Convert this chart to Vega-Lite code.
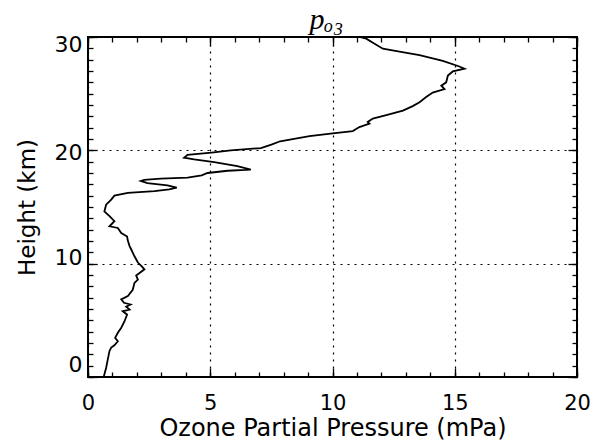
{
  "$schema": "https://vega.github.io/schema/vega-lite/v6.json",
  "width": 489,
  "height": 340,
  "autosize": "none",
  "padding": {"left": 88, "top": 37, "right": 14, "bottom": 71},
  "background": "white",
  "title": {"text": "pₒ₃", "font": "Liberation Serif", "fontStyle": "italic", "fontSize": 30, "fontWeight": "normal", "color": "black", "anchor": "middle", "offset": -2, "dx": -6},
  "config": {
    "view": {"stroke": "black", "strokeWidth": 2},
    "axis": {"labelColor": "black", "titleColor": "black", "labelFont": "DejaVu Sans", "titleFont": "DejaVu Sans", "tickColor": "black", "domain": false}
  },
  "data": {"values": [
    {"h": 0.0, "p": 0.63}, {"h": 0.07, "p": 0.65}, {"h": 0.8, "p": 0.74}, {"h": 1.55, "p": 0.81},
    {"h": 2.3, "p": 0.88}, {"h": 2.6, "p": 0.95}, {"h": 2.8, "p": 1.08}, {"h": 3.15, "p": 1.22},
    {"h": 3.45, "p": 1.11}, {"h": 3.9, "p": 1.22}, {"h": 4.35, "p": 1.36}, {"h": 4.9, "p": 1.49},
    {"h": 5.5, "p": 1.6}, {"h": 5.8, "p": 1.42}, {"h": 5.95, "p": 1.7}, {"h": 6.2, "p": 1.56},
    {"h": 6.4, "p": 1.74}, {"h": 6.55, "p": 1.47}, {"h": 6.85, "p": 1.36}, {"h": 7.15, "p": 1.63},
    {"h": 7.7, "p": 1.83}, {"h": 8.3, "p": 1.9}, {"h": 8.6, "p": 2.04}, {"h": 8.95, "p": 1.97},
    {"h": 9.5, "p": 2.31}, {"h": 9.8, "p": 2.18}, {"h": 10.1, "p": 2.04}, {"h": 10.65, "p": 1.9},
    {"h": 11.25, "p": 1.77}, {"h": 11.55, "p": 1.7}, {"h": 12.1, "p": 1.62}, {"h": 12.4, "p": 1.6},
    {"h": 12.7, "p": 1.36}, {"h": 13.15, "p": 1.22}, {"h": 13.3, "p": 0.88}, {"h": 13.75, "p": 1.08},
    {"h": 14.2, "p": 0.88}, {"h": 14.6, "p": 0.67}, {"h": 15.2, "p": 0.74}, {"h": 15.65, "p": 0.95},
    {"h": 16.0, "p": 1.08}, {"h": 16.25, "p": 1.63}, {"h": 16.4, "p": 2.72}, {"h": 16.55, "p": 3.32},
    {"h": 16.7, "p": 3.63}, {"h": 16.9, "p": 3.25}, {"h": 17.1, "p": 2.43}, {"h": 17.3, "p": 2.16},
    {"h": 17.4, "p": 2.3}, {"h": 17.5, "p": 2.98}, {"h": 17.6, "p": 4.07}, {"h": 17.8, "p": 4.65},
    {"h": 18.0, "p": 4.89}, {"h": 18.2, "p": 5.71}, {"h": 18.3, "p": 6.66}, {"h": 18.6, "p": 6.11},
    {"h": 18.95, "p": 5.16}, {"h": 19.2, "p": 4.34}, {"h": 19.35, "p": 3.93}, {"h": 19.6, "p": 4.07},
    {"h": 19.8, "p": 5.05}, {"h": 20.0, "p": 5.84}, {"h": 20.2, "p": 7.07}, {"h": 20.5, "p": 7.5},
    {"h": 20.8, "p": 7.86}, {"h": 21.25, "p": 9.06}, {"h": 21.5, "p": 10.01}, {"h": 21.7, "p": 10.83},
    {"h": 22.05, "p": 11.1}, {"h": 22.35, "p": 11.51}, {"h": 22.5, "p": 11.44}, {"h": 22.8, "p": 11.65},
    {"h": 23.1, "p": 12.2}, {"h": 23.5, "p": 12.88}, {"h": 23.9, "p": 13.28}, {"h": 24.25, "p": 13.56},
    {"h": 24.7, "p": 13.83}, {"h": 25.1, "p": 14.1}, {"h": 25.4, "p": 14.58}, {"h": 25.7, "p": 14.45},
    {"h": 26.0, "p": 14.65}, {"h": 26.6, "p": 14.72}, {"h": 26.96, "p": 14.92}, {"h": 27.2, "p": 15.4},
    {"h": 27.4, "p": 15.19}, {"h": 27.9, "p": 14.51}, {"h": 28.4, "p": 13.56}, {"h": 28.7, "p": 12.74},
    {"h": 28.97, "p": 12.06}, {"h": 29.4, "p": 11.72}, {"h": 29.85, "p": 11.38}, {"h": 30.0, "p": 11.1}
  ]},
  "resolve": {"axis": {"x": "independent", "y": "independent"}},
  "layer": [
    {
      "mark": {"type": "line", "color": "black", "strokeWidth": 1.8, "clip": true},
      "encoding": {
        "x": {"field": "p", "type": "quantitative", "scale": {"domain": [0, 20], "nice": false, "zero": false},
          "axis": {"values": [0, 5, 10, 15, 20], "ticks": false, "grid": true, "gridColor": "black", "gridOpacity": 1, "gridDash": [2, 5], "gridWidth": 1.2,
            "labelFontSize": 21, "labelPadding": 15, "labelFlush": false, "title": "Ozone Partial Pressure (mPa)", "titleFontSize": 24, "titleFontWeight": "normal", "titlePadding": 3}},
        "y": {"field": "h", "type": "quantitative", "scale": {"domain": [0, 30], "nice": false, "zero": false},
          "axis": {"values": [0, 10, 20, 30], "ticks": false, "grid": true, "gridColor": "black", "gridOpacity": 1, "gridDash": [2, 5], "gridWidth": 1.2,
            "labelFontSize": 22, "labelPadding": 6, "labelFlush": false,
            "labelOffset": {"condition": [{"test": "datum.value == 30", "value": 7}, {"test": "datum.value == 20", "value": 2}, {"test": "datum.value == 10", "value": -6}], "value": -13},
            "title": "Height (km)", "titleFontSize": 23, "titleFontWeight": "normal", "titlePadding": 15}},
        "order": {"field": "h", "type": "quantitative"}
      }
    },
    {
      "mark": {"type": "point", "opacity": 0},
      "encoding": {
        "x": {"field": "p", "type": "quantitative", "axis": {"orient": "bottom", "values": [0,1,2,3,4,5,6,7,8,9,10,11,12,13,14,15,16,17,18,19,20], "tickSize": -5, "tickWidth": 1.3, "labels": false, "grid": false, "title": null}},
        "y": {"field": "h", "type": "quantitative", "axis": {"orient": "left", "values": [0,1,2,3,4,5,6,7,8,9,10,11,12,13,14,15,16,17,18,19,20,21,22,23,24,25,26,27,28,29,30], "tickSize": -5, "tickWidth": 1.3, "labels": false, "grid": false, "title": null}}
      }
    },
    {
      "mark": {"type": "point", "opacity": 0},
      "encoding": {
        "x": {"field": "p", "type": "quantitative", "axis": {"orient": "bottom", "values": [0, 5, 10, 15, 20], "tickSize": -9, "tickWidth": 1.3, "labels": false, "grid": false, "title": null}},
        "y": {"field": "h", "type": "quantitative", "axis": {"orient": "left", "values": [0, 10, 20, 30], "tickSize": -9, "tickWidth": 1.3, "labels": false, "grid": false, "title": null}}
      }
    },
    {
      "mark": {"type": "point", "opacity": 0},
      "encoding": {
        "x": {"field": "p", "type": "quantitative", "axis": {"orient": "top", "values": [0,1,2,3,4,5,6,7,8,9,10,11,12,13,14,15,16,17,18,19,20], "tickSize": -5, "tickWidth": 1.3, "labels": false, "grid": false, "title": null}},
        "y": {"field": "h", "type": "quantitative", "axis": {"orient": "right", "values": [0,1,2,3,4,5,6,7,8,9,10,11,12,13,14,15,16,17,18,19,20,21,22,23,24,25,26,27,28,29,30], "tickSize": -5, "tickWidth": 1.3, "labels": false, "grid": false, "title": null}}
      }
    },
    {
      "mark": {"type": "point", "opacity": 0},
      "encoding": {
        "x": {"field": "p", "type": "quantitative", "axis": {"orient": "top", "values": [0, 5, 10, 15, 20], "tickSize": -9, "tickWidth": 1.3, "labels": false, "grid": false, "title": null}},
        "y": {"field": "h", "type": "quantitative", "axis": {"orient": "right", "values": [0, 10, 20, 30], "tickSize": -9, "tickWidth": 1.3, "labels": false, "grid": false, "title": null}}
      }
    }
  ]
}
